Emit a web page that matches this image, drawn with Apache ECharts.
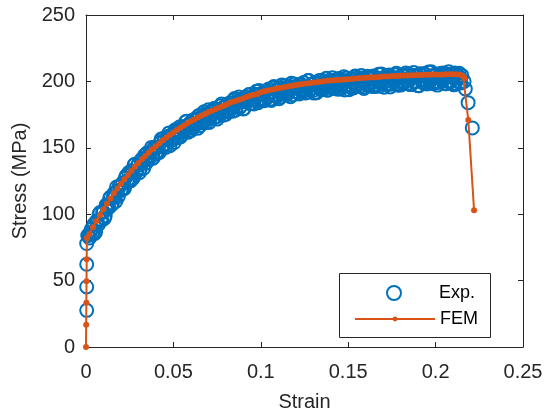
<!DOCTYPE html>
<html>
<head>
<meta charset="utf-8">
<script src="https://cdn.jsdelivr.net/npm/echarts@6/dist/echarts.min.js"></script>
<style>
html, body { margin: 0; padding: 0; background: #fff; }
#chart { width: 544px; height: 414px; }
</style>
</head>
<body>
<div id="chart"></div>
<script>
// experimental points (strain, stress in MPa), first pass of readings
var expStrain = [
	0.0004, 0.0004, 0.0004, 0.0004,
	0.001, 0.002, 0.003, 0.004, 0.005, 0.006, 0.007, 0.008, 0.009, 0.010,
	0.011, 0.012, 0.013, 0.014, 0.015, 0.016, 0.017, 0.018, 0.019, 0.020,
	0.021, 0.022, 0.023, 0.024, 0.025, 0.026, 0.027, 0.028, 0.029, 0.030,
	0.031, 0.032, 0.033, 0.034, 0.035, 0.036, 0.037, 0.038, 0.039, 0.040,
	0.041, 0.042, 0.043, 0.044, 0.045, 0.046, 0.047, 0.048, 0.049, 0.050,
	0.051, 0.052, 0.053, 0.054, 0.055, 0.056, 0.057, 0.058, 0.059, 0.060,
	0.061, 0.062, 0.063, 0.064, 0.065, 0.066, 0.067, 0.068, 0.069, 0.070,
	0.071, 0.072, 0.073, 0.074, 0.075, 0.076, 0.077, 0.078, 0.079, 0.080,
	0.081, 0.082, 0.083, 0.084, 0.085, 0.086, 0.087, 0.088, 0.089, 0.090,
	0.091, 0.092, 0.093, 0.094, 0.095, 0.096, 0.097, 0.098, 0.099, 0.100,
	0.101, 0.102, 0.103, 0.104, 0.105, 0.106, 0.107, 0.108, 0.109, 0.110,
	0.111, 0.112, 0.113, 0.114, 0.115, 0.116, 0.117, 0.118, 0.119, 0.120,
	0.121, 0.122, 0.123, 0.124, 0.125, 0.126, 0.127, 0.128, 0.129, 0.130,
	0.131, 0.132, 0.133, 0.134, 0.135, 0.136, 0.137, 0.138, 0.139, 0.140,
	0.141, 0.142, 0.143, 0.144, 0.145, 0.146, 0.147, 0.148, 0.149, 0.150,
	0.151, 0.152, 0.153, 0.154, 0.155, 0.156, 0.157, 0.158, 0.159, 0.160,
	0.161, 0.162, 0.163, 0.164, 0.165, 0.166, 0.167, 0.168, 0.169, 0.170,
	0.171, 0.172, 0.173, 0.174, 0.175, 0.176, 0.177, 0.178, 0.179, 0.180,
	0.181, 0.182, 0.183, 0.184, 0.185, 0.186, 0.187, 0.188, 0.189, 0.190,
	0.191, 0.192, 0.193, 0.194, 0.195, 0.196, 0.197, 0.198, 0.199, 0.200,
	0.201, 0.202, 0.203, 0.204, 0.205, 0.206, 0.207, 0.208, 0.209, 0.210,
	0.211, 0.212, 0.213, 0.214, 0.215,
	0.2163, 0.2170, 0.2186, 0.2210
];
var expStress = [
	27.6, 45.2, 62.3, 77.9,
	84.0, 82.1, 88.6, 86.1, 85.5, 94.8, 92.1, 101.3, 95.5, 101.7,
	98.8, 106.9, 104.9, 112.9, 107.8, 115.7, 109.6, 117.4, 121.2, 117.9,
	123.6, 119.3, 129.0, 125.6, 125.2, 132.7, 127.2, 137.7, 132.2, 137.6,
	134.0, 141.3, 134.6, 141.9, 146.2, 141.5, 146.7, 141.9, 150.1, 145.2,
	150.4, 146.5, 156.6, 150.6, 155.7, 151.7, 158.7, 151.6, 159.6, 157.5,
	163.5, 157.4, 163.3, 158.1, 166.0, 161.8, 169.6, 162.4, 167.2, 162.9,
	170.7, 166.4, 171.1, 164.8, 174.5, 170.1, 168.8, 175.4, 169.1, 178.7,
	172.3, 176.9, 172.5, 179.0, 171.6, 178.1, 181.7, 176.2, 180.7, 175.2,
	183.0, 177.7, 182.2, 177.6, 187.1, 180.5, 185.0, 180.4, 186.8, 179.2,
	186.9, 184.5, 189.9, 183.2, 188.6, 183.0, 190.3, 185.6, 193.2, 185.8,
	190.2, 185.5, 192.8, 188.1, 192.4, 185.7, 195.0, 190.2, 188.5, 194.8,
	188.1, 197.3, 190.6, 194.8, 190.1, 196.3, 188.5, 194.7, 198.0, 192.2,
	196.4, 190.6, 197.8, 192.0, 196.2, 191.4, 200.6, 193.7, 197.9, 193.1,
	199.3, 191.4, 198.6, 195.8, 200.9, 194.1, 199.2, 193.4, 200.5, 195.7,
	202.8, 194.9, 199.0, 194.1, 201.2, 196.3, 200.4, 193.5, 202.6, 197.7,
	195.8, 201.9, 195.0, 204.1, 197.2, 201.3, 196.4, 202.5, 194.6, 200.7,
	203.8, 197.9, 202.0, 196.1, 203.1, 197.2, 201.3, 196.4, 205.5, 198.6,
	202.6, 197.7, 203.7, 195.8, 202.9, 200.0, 205.0, 198.1, 203.1, 197.2,
	204.3, 199.4, 206.4, 198.5, 202.5, 197.6, 204.6, 199.7, 203.7, 196.8,
	205.8, 200.9, 198.9, 205.0, 198.0, 207.1, 200.1, 204.2, 199.2, 205.2,
	197.2, 203.1, 206.2, 200.2, 204.3, 198.3, 205.3, 199.3, 203.4, 198.4,
	206.4, 200.3, 204.2, 199.0, 204.5,
	200.0, 194.4, 184.0, 165.0
];
// experimental points, in-between readings
var expStrain2 = [
	0.0015, 0.0025, 0.0035, 0.0045, 0.0055, 0.0065, 0.0075, 0.0085, 0.0095, 0.0105,
	0.0115, 0.0125, 0.0135, 0.0145, 0.0155, 0.0165, 0.0175, 0.0185, 0.0195, 0.0205,
	0.0215, 0.0225, 0.0235, 0.0245, 0.0255, 0.0265, 0.0275, 0.0285, 0.0295, 0.0305,
	0.0315, 0.0325, 0.0335, 0.0345, 0.0355, 0.0365, 0.0375, 0.0385, 0.0395, 0.0405,
	0.0415, 0.0425, 0.0435, 0.0445, 0.0455, 0.0465, 0.0475, 0.0485, 0.0495, 0.0505,
	0.0515, 0.0525, 0.0535, 0.0545, 0.0555, 0.0565, 0.0575, 0.0585, 0.0595, 0.0605,
	0.0615, 0.0625, 0.0635, 0.0645, 0.0655, 0.0665, 0.0675, 0.0685, 0.0695, 0.0705,
	0.0715, 0.0725, 0.0735, 0.0745, 0.0755, 0.0765, 0.0775, 0.0785, 0.0795, 0.0805,
	0.0815, 0.0825, 0.0835, 0.0845, 0.0855, 0.0865, 0.0875, 0.0885, 0.0895, 0.0905,
	0.0915, 0.0925, 0.0935, 0.0945, 0.0955, 0.0965, 0.0975, 0.0985, 0.0995, 0.1005,
	0.1015, 0.1025, 0.1035, 0.1045, 0.1055, 0.1065, 0.1075, 0.1085, 0.1095, 0.1105,
	0.1115, 0.1125, 0.1135, 0.1145, 0.1155, 0.1165, 0.1175, 0.1185, 0.1195, 0.1205,
	0.1215, 0.1225, 0.1235, 0.1245, 0.1255, 0.1265, 0.1275, 0.1285, 0.1295, 0.1305,
	0.1315, 0.1325, 0.1335, 0.1345, 0.1355, 0.1365, 0.1375, 0.1385, 0.1395, 0.1405,
	0.1415, 0.1425, 0.1435, 0.1445, 0.1455, 0.1465, 0.1475, 0.1485, 0.1495, 0.1505,
	0.1515, 0.1525, 0.1535, 0.1545, 0.1555, 0.1565, 0.1575, 0.1585, 0.1595, 0.1605,
	0.1615, 0.1625, 0.1635, 0.1645, 0.1655, 0.1665, 0.1675, 0.1685, 0.1695, 0.1705,
	0.1715, 0.1725, 0.1735, 0.1745, 0.1755, 0.1765, 0.1775, 0.1785, 0.1795, 0.1805,
	0.1815, 0.1825, 0.1835, 0.1845, 0.1855, 0.1865, 0.1875, 0.1885, 0.1895, 0.1905,
	0.1915, 0.1925, 0.1935, 0.1945, 0.1955, 0.1965, 0.1975, 0.1985, 0.1995, 0.2005,
	0.2015, 0.2025, 0.2035, 0.2045, 0.2055, 0.2065, 0.2075, 0.2085, 0.2095, 0.2105,
	0.2115, 0.2125, 0.2135, 0.2145
];
var expStress2 = [
	84.1, 86.4, 84.9, 92.3, 86.7, 94.0, 100.2, 95.4, 101.6, 96.8,
	106.9, 105.9, 111.9, 106.9, 112.8, 112.7, 120.5, 113.3, 121.1, 118.8,
	119.5, 127.2, 124.8, 131.4, 125.0, 131.5, 137.0, 131.5, 136.9, 131.3,
	140.7, 139.0, 144.3, 138.6, 143.9, 143.1, 150.3, 142.5, 149.7, 146.8,
	147.0, 154.1, 151.1, 157.2, 150.2, 156.2, 161.2, 155.1, 160.1, 154.0,
	163.0, 160.9, 165.7, 159.6, 164.4, 163.2, 170.0, 161.8, 168.6, 165.3,
	165.1, 171.8, 168.5, 174.2, 166.8, 172.5, 177.1, 170.8, 175.4, 169.0,
	177.6, 175.2, 179.8, 173.3, 177.9, 176.4, 183.0, 174.5, 181.0, 177.6,
	177.4, 184.0, 180.4, 185.9, 178.3, 183.8, 188.2, 181.6, 186.0, 179.6,
	188.2, 185.7, 190.1, 183.4, 187.8, 186.2, 192.5, 183.9, 190.5, 187.0,
	186.4, 192.7, 189.0, 194.3, 186.6, 191.9, 196.1, 189.4, 193.7, 187.0,
	195.2, 192.5, 196.7, 190.0, 194.2, 192.4, 198.6, 189.9, 196.1, 192.3,
	191.5, 197.7, 193.9, 199.1, 191.3, 196.5, 200.7, 193.8, 198.0, 191.2,
	199.4, 196.5, 200.7, 193.9, 198.0, 196.2, 202.3, 193.5, 199.6, 195.8,
	194.9, 201.0, 197.1, 202.2, 194.3, 199.4, 203.5, 196.6, 200.7, 193.8,
	201.9, 199.0, 203.1, 196.2, 200.3, 198.4, 204.5, 195.6, 201.7, 197.8,
	196.9, 203.0, 199.1, 204.1, 196.2, 201.3, 205.4, 198.5, 202.6, 195.6,
	203.7, 200.7, 204.8, 197.9, 202.0, 200.0, 206.1, 197.1, 203.2, 199.3,
	198.4, 204.4, 200.5, 205.5, 197.6, 202.6, 206.7, 199.7, 203.8, 196.8,
	204.9, 201.9, 206.0, 199.0, 203.1, 201.1, 207.2, 198.2, 204.2, 200.2,
	199.2, 205.2, 201.2, 206.3, 198.3, 203.3, 207.3, 200.4, 204.4, 197.4,
	205.4, 202.3, 206.1, 198.8
];

// FEM curve
var femStrain = [
	0, 0.0001, 0.0002, 0.0003, 0.0004, 0.0005,
	0.002, 0.004, 0.006, 0.008, 0.010, 0.012, 0.014, 0.016, 0.018, 0.020,
	0.022, 0.024, 0.026, 0.028, 0.030, 0.032, 0.034, 0.036, 0.038, 0.040,
	0.042, 0.044, 0.046, 0.048, 0.050, 0.052, 0.054, 0.056, 0.058, 0.060,
	0.062, 0.064, 0.066, 0.068, 0.070, 0.072, 0.074, 0.076, 0.078, 0.080,
	0.082, 0.084, 0.086, 0.088, 0.090, 0.092, 0.094, 0.096, 0.098, 0.100,
	0.102, 0.104, 0.106, 0.108, 0.110, 0.112, 0.114, 0.116, 0.118, 0.120,
	0.122, 0.124, 0.126, 0.128, 0.130, 0.132, 0.134, 0.136, 0.138, 0.140,
	0.142, 0.144, 0.146, 0.148, 0.150, 0.152, 0.154, 0.156, 0.158, 0.160,
	0.162, 0.164, 0.166, 0.168, 0.170, 0.172, 0.174, 0.176, 0.178, 0.180,
	0.182, 0.184, 0.186, 0.188, 0.190, 0.192, 0.194, 0.196, 0.198, 0.200,
	0.202, 0.204, 0.206, 0.208, 0.210, 0.212, 0.214,
	0.2158, 0.2166, 0.2187, 0.2220
];
var femStress = [
	0, 16.8, 33.4, 49.6, 66.0, 82.0,
	85.1, 90.1, 94.8, 99.3, 103.7, 107.9, 111.9, 115.7, 119.4, 122.9,
	126.3, 129.6, 132.7, 135.7, 138.6, 141.3, 143.9, 146.5, 148.9, 151.2,
	153.5, 155.6, 157.7, 159.6, 161.5, 163.4, 165.1, 166.8, 168.4, 169.9,
	171.4, 172.8, 174.1, 175.4, 176.7, 177.9, 179.0, 180.1, 181.2, 182.2,
	183.7, 184.6, 185.5, 186.4, 187.2, 188.5, 189.2, 190.0, 190.6, 191.8,
	192.5, 193.1, 193.7, 194.2, 194.8, 195.3, 195.8, 196.3, 196.7, 197.2,
	197.6, 198.0, 198.4, 198.7, 199.1, 199.4, 199.8, 200.1, 200.4, 200.7,
	200.9, 201.1, 201.3, 201.5, 201.7, 201.9, 202.1, 202.3, 202.5, 202.7,
	202.9, 203.1, 203.2, 203.4, 203.6, 203.7, 203.8, 204.0, 204.1, 204.2,
	204.4, 204.5, 204.6, 204.7, 204.8, 204.9, 205.0, 205.1, 205.2, 205.2,
	205.1, 205.2, 205.3, 205.3, 205.4, 205.3, 205.0,
	203.6, 202.4, 171.0, 103.0
];

var seriesNames = ['Exp.', 'FEM'];
var xName = 'Strain';
var yName = 'Stress (MPa)';

function pairs(xs, ys){
	var out = [];
	for (var i=0; i<xs.length; i++){
		out.push([xs[i], ys[i]]);
	}
	return out;
}

var ink = '#262626';
var font = 'Liberation Sans, Arial, Helvetica, sans-serif';

var baseAxis = function(extra){
	var ax = {
		type: 'value',
		axisLine: {show: true, onZero: false, lineStyle: {color: ink, width: 1}},
		axisTick: {show: true, inside: true, length: 5, lineStyle: {color: ink}},
		splitLine: {show: false},
		axisLabel: {show: false}
	};
	for (var k in extra) ax[k] = extra[k];
	return ax;
};

var legendBase = function(name, left, top, h){
	return {
		data: [name],
		orient: 'vertical',
		left: left,
		top: top,
		padding: 0,
		itemWidth: 80,
		itemHeight: h,
		z: 20,
		textStyle: {fontSize: 18, color: '#000', fontFamily: font}
	};
};

var myChart = echarts.init(document.getElementById('chart'), null, {renderer: 'canvas'});
var option = {
	animation: false,
	backgroundColor: '#fff',
	textStyle: {fontFamily: font},
	grid: {left: 86, right: 21, top: 15, bottom: 67, containLabel: false, outerBoundsMode: 'none'},
	graphic: [{
		type: 'rect',
		shape: {x: 339.5, y: 273.5, width: 151, height: 64},
		style: {fill: '#fff', stroke: ink, lineWidth: 1},
		z: 3
	}],
	legend: [
		legendBase(seriesNames[0], 386, 284, 14),
		legendBase(seriesNames[1], 354, 310, 6)
	],
	xAxis: [
		baseAxis({
			position: 'bottom', min: 0, max: 0.25, interval: 0.05,
			name: xName, nameLocation: 'middle', nameGap: 45,
			nameTextStyle: {fontSize: 20, color: ink, fontFamily: font},
			axisLabel: {show: true, fontSize: 20, color: ink, margin: 15, fontFamily: font}
		}),
		baseAxis({position: 'top', min: 0, max: 0.25, interval: 0.05})
	],
	yAxis: [
		baseAxis({
			position: 'left', min: 0, max: 250, interval: 50,
			name: yName, nameLocation: 'middle', nameGap: 49,
			nameTextStyle: {fontSize: 20, color: ink, fontFamily: font},
			axisLabel: {show: true, fontSize: 20, color: ink, margin: 11, padding: [4, 0, 0, 0], fontFamily: font}
		}),
		baseAxis({position: 'right', min: 0, max: 250, interval: 50})
	],
	series: [
		{
			name: seriesNames[0],
			type: 'scatter',
			xAxisIndex: 0, yAxisIndex: 0,
			data: pairs(expStrain, expStress).concat(pairs(expStrain2, expStress2)),
			symbol: 'circle',
			symbolSize: 13,
			clip: false,
			itemStyle: {color: 'rgba(0,0,0,0)', borderColor: '#0072BD', borderWidth: 2, opacity: 1},
			emphasis: {disabled: true}
		},
		{
			name: seriesNames[1],
			type: 'line',
			xAxisIndex: 0, yAxisIndex: 0,
			data: pairs(femStrain, femStress),
			symbol: 'circle',
			symbolSize: 6,
			showAllSymbol: true,
			lineStyle: {color: '#D95319', width: 2},
			itemStyle: {color: '#D95319'},
			emphasis: {disabled: true}
		}
	]
};
myChart.setOption(option);
</script>
</body>
</html>
